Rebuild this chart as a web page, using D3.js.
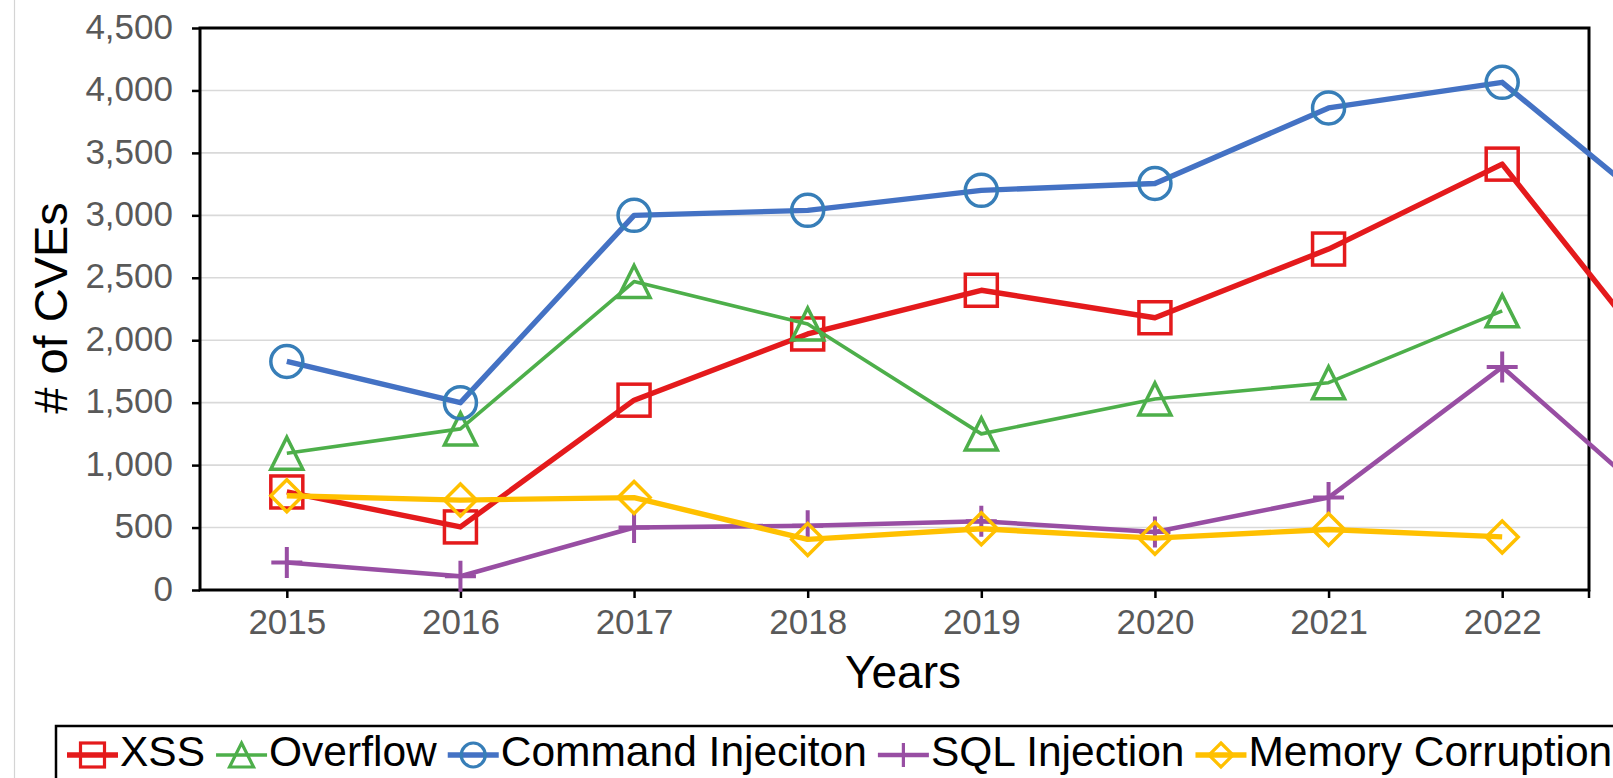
<!DOCTYPE html>
<html>
<head>
<meta charset="utf-8">
<script src="https://cdn.jsdelivr.net/npm/d3@7/dist/d3.min.js"></script>
<style>
    body { margin: 0; background: #fff; }
    svg { display: block; font-family: "Liberation Sans", Arial, Helvetica, sans-serif; }
</style>
</head>
<body>
<svg id="chart" width="1613" height="778"></svg>
<script>
// Data (2023 points run past the plot frame)
const years = [2015, 2016, 2017, 2018, 2019, 2020, 2021, 2022, 2023];
const yTicks = [0, 500, 1000, 1500, 2000, 2500, 3000, 3500, 4000, 4500];

const xssValues = [785, 505, 1520, 2050, 2400, 2180, 2730, 3410, 1660];
const overflowValues = [1095, 1290, 2470, 2130, 1250, 1530, 1660, 2235, null];
const commandValues = [1830, 1500, 3000, 3040, 3200, 3255, 3860, 4065, 2920];
const sqlValues = [220, 110, 500, 515, 550, 465, 740, 1785, 560];
const memoryValues = [755, 720, 740, 405, 490, 415, 485, 425, null];

const seriesNames = ['XSS', 'Overflow', 'Command Injeciton', 'SQL Injection', 'Memory Corruption'];

//Helpers
const translate = (x, y) => `translate(${x}, ${y})`;

const series = [
    { name: seriesNames[0], values: xssValues, line: '#e41a1c', mark: '#e41a1c', width: 5.4, shape: 'square' },
    { name: seriesNames[1], values: overflowValues, line: '#4daf4a', mark: '#4daf4a', width: 3.6, shape: 'triangle' },
    { name: seriesNames[2], values: commandValues, line: '#4472c4', mark: '#377eb8', width: 5.4, shape: 'circle' },
    { name: seriesNames[3], values: sqlValues, line: '#984ea3', mark: '#984ea3', width: 4.6, shape: 'plus' },
    { name: seriesNames[4], values: memoryValues, line: '#ffc000', mark: '#ffc000', width: 5.4, shape: 'diamond' },
];

const width = 1613, height = 778;
const margins = { top: 28, right: 24, bottom: 188, left: 200 };

const svg = d3.select('#chart');

svg.append('rect').attr('width', width).attr('height', height).attr('fill', '#fff');

// thin page edge on the left
svg.append('line')
    .attr('x1', 14.5).attr('x2', 14.5)
    .attr('y1', 0).attr('y2', height)
    .attr('stroke', '#d4d4d4').attr('stroke-width', 1.2);

// Scales - years are categories, one step each
const xScale = d3.scaleLinear()
    .domain([2014.5, 2022.5])
    .range([margins.left, width - margins.right]);

const yScale = d3.scaleLinear()
    .domain([0, 4500])
    .range([height - margins.bottom, margins.top]);

const plotRight = xScale(2022.5);
const plotBottom = yScale(0);

// Gridlines
svg.append('g')
    .selectAll('line')
    .data(yTicks.filter(t => t > 0 && t < 4500))
    .join('line')
    .attr('x1', margins.left).attr('x2', plotRight)
    .attr('y1', d => yScale(d)).attr('y2', d => yScale(d))
    .attr('stroke', '#d9d9d9').attr('stroke-width', 1.6);

// Y axis
const yAxis = d3.axisLeft(yScale)
    .tickValues(yTicks)
    .tickFormat(d3.format(','))
    .tickSize(8)
    .tickPadding(19);
const yAxisG = svg.append('g')
    .attr('transform', translate(margins.left, 0))
    .call(yAxis);
yAxisG.select('.domain').remove();
yAxisG.selectAll('.tick line').attr('stroke', '#000').attr('stroke-width', 2.5);
yAxisG.selectAll('.tick text')
    .attr('fill', '#595959')
    .attr('font-size', 35)
    .attr('dy', '0.29em');

// X axis
const xAxis = d3.axisBottom(xScale)
    .tickValues(years.slice(0, 8))
    .tickFormat(d3.format('d'))
    .tickSize(8)
    .tickPadding(11);
const xAxisG = svg.append('g')
    .attr('transform', translate(0, plotBottom))
    .call(xAxis);
xAxisG.select('.domain').remove();
xAxisG.selectAll('.tick line').attr('stroke', '#000').attr('stroke-width', 2.5);
xAxisG.selectAll('.tick text')
    .attr('fill', '#595959')
    .attr('font-size', 35);

// end tick at the right corner
svg.append('line')
    .attr('x1', plotRight).attr('x2', plotRight)
    .attr('y1', plotBottom).attr('y2', plotBottom + 8)
    .attr('stroke', '#000').attr('stroke-width', 2.5);

// Plot frame
svg.append('rect')
    .attr('x', margins.left)
    .attr('y', margins.top)
    .attr('width', plotRight - margins.left)
    .attr('height', plotBottom - margins.top)
    .attr('fill', 'none')
    .attr('stroke', '#000')
    .attr('stroke-width', 3);

// Axis titles
svg.append('text')
    .text('# of CVEs')
    .attr('transform', translate(67, 308) + ' rotate(-90)')
    .attr('text-anchor', 'middle')
    .attr('font-size', 47)
    .attr('fill', '#000');

svg.append('text')
    .text('Years')
    .attr('x', 903)
    .attr('y', 688)
    .attr('text-anchor', 'middle')
    .attr('font-size', 46)
    .attr('fill', '#000');

// Marker shapes
const drawMarker = (g, shape, color, s, sw) => {
    const h = s / 2;
    if (shape === 'square') {
        g.append('rect').attr('x', -h).attr('y', -h).attr('width', s).attr('height', s);
    } else if (shape === 'circle') {
        g.append('circle').attr('r', h);
    } else if (shape === 'triangle') {
        g.append('path').attr('d', `M0,${-h}L${h},${h}L${-h},${h}Z`);
    } else if (shape === 'diamond') {
        g.append('path').attr('d', `M0,${-h}L${h},0L0,${h}L${-h},0Z`);
    } else if (shape === 'plus') {
        g.append('path').attr('d', `M${-h},0H${h}M0,${-h}V${h}`);
    }
    g.selectAll('*')
        .attr('fill', 'none')
        .attr('stroke', color)
        .attr('stroke-width', sw);
};

const line = d3.line()
    .defined(d => d.v != null)
    .x(d => xScale(d.year))
    .y(d => yScale(d.v));

// Series
series.forEach(s => {
    const pts = years.map((year, i) => ({ year, v: s.values[i] }));
    const g = svg.append('g').attr('class', 'series');
    g.append('path')
        .datum(pts)
        .attr('d', line)
        .attr('fill', 'none')
        .attr('stroke', s.line)
        .attr('stroke-width', s.width)
        .attr('stroke-linejoin', 'round');
    g.selectAll('g.mark')
        .data(pts.filter(d => d.v != null && d.year <= 2022))
        .join('g')
        .attr('class', 'mark')
        .attr('transform', d => translate(xScale(d.year), yScale(d.v)))
        .each((d, i, nodes) => drawMarker(d3.select(nodes[i]), s.shape, s.mark, s.shape === 'plus' ? 31 : 32, s.shape === 'plus' ? 4 : 3.5));
});

// Legend
const legendG = svg.append('g');
legendG.append('rect')
    .attr('x', 56).attr('y', 726)
    .attr('width', 1700).attr('height', 120)
    .attr('fill', '#fff')
    .attr('stroke', '#000')
    .attr('stroke-width', 2.5);

let lx = 67;
const ly = 755;
series.forEach(s => {
    const item = legendG.append('g');
    item.append('line')
        .attr('x1', lx).attr('x2', lx + 51)
        .attr('y1', ly).attr('y2', ly)
        .attr('stroke', s.line)
        .attr('stroke-width', s.width);
    const mg = item.append('g').attr('transform', translate(lx + 25.5, ly));
    drawMarker(mg, s.shape, s.mark, 24, 3.2);
    const t = item.append('text')
        .text(s.name)
        .attr('x', lx + 53)
        .attr('y', ly + 11)
        .attr('font-size', 42.5)
        .attr('fill', '#000');
    lx = lx + 53 + t.node().getComputedTextLength() + 11;
});
</script>
</body>
</html>
